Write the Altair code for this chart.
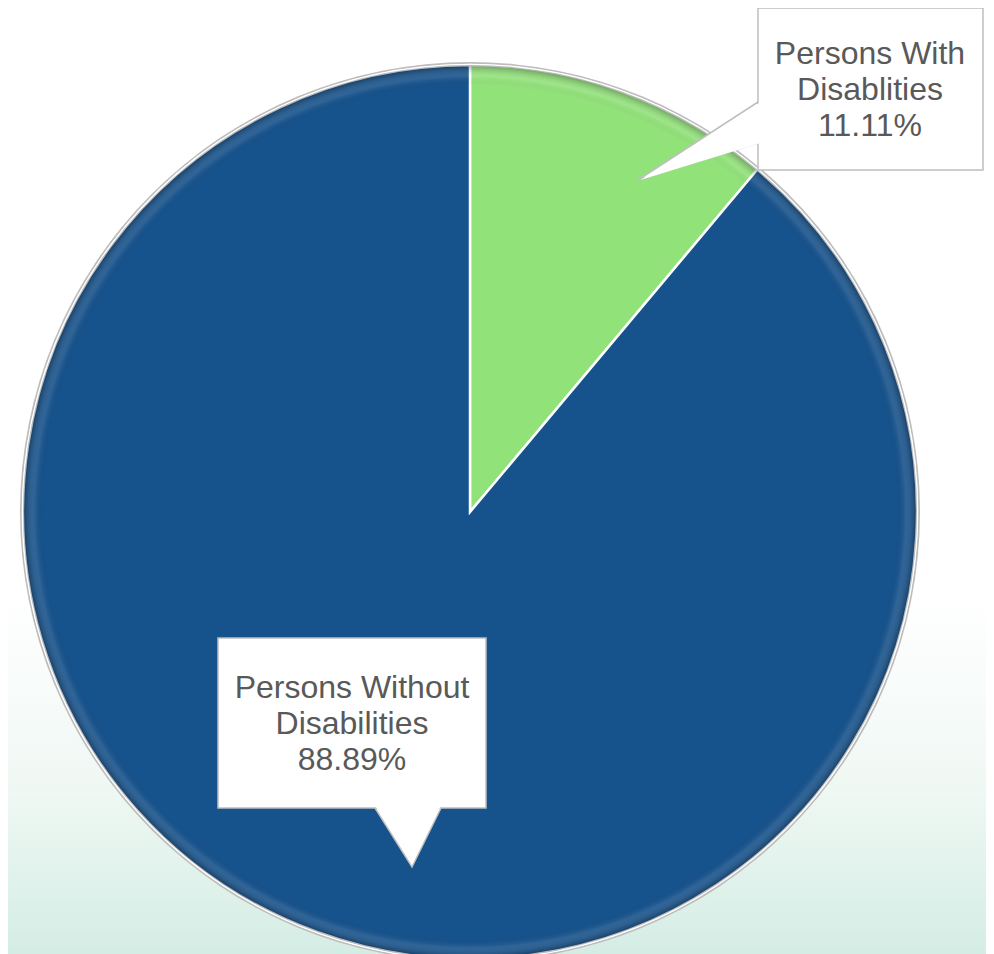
import altair as alt
import pandas as pd

# ---- data ----
categories = ["Persons With Disablities", "Persons Without Disabilities"]
shares = [11.11, 88.89]
label_line1 = ["Persons With", "Persons Without"]
label_line2 = ["Disablities", "Disabilities"]
slice_order = [0, 1]

# ---- styles ----
slice_colors = ["#92E27A", "#16528C"]
text_color = "#595959"
box_stroke = "#BFBFBF"

df = pd.DataFrame({
    "category": categories,
    "share": shares,
    "line1": label_line1,
    "line2": label_line2,
    "order": slice_order,
})
df["label"] = df["line1"] + "\n" + df["line2"] + "\n" + df["share"].map(lambda v: f"{v:.2f}%")

W, H = 978, 946
CX, CY, R = 462, 504, 447

base = alt.Chart(df)
one = base.transform_filter(alt.datum.order == 0)

# background gradient
bg = one.mark_rect(
    fill=alt.LinearGradient(
        gradient="linear", x1=0, x2=0, y1=0, y2=1,
        stops=[alt.GradientStop(offset=0, color="#FFFFFF"),
               alt.GradientStop(offset=0.62, color="#FFFFFF"),
               alt.GradientStop(offset=0.82, color="#F0F8F4"),
               alt.GradientStop(offset=1, color="#D4EDE4")]),
    strokeWidth=0,
).encode(x=alt.value(0), x2=alt.value(W), y=alt.value(0), y2=alt.value(H))

# thin grey rim around the pie
rim = one.mark_arc(theta=0, theta2=6.2832, radius=R + 3, fill="#BDBDBD").encode(
    x=alt.value(CX), y=alt.value(CY))
rim_gap = one.mark_arc(theta=0, theta2=6.2832, radius=R + 1, fill="#F4F4F4").encode(
    x=alt.value(CX), y=alt.value(CY))

pie = base.mark_arc(radius=R, stroke="#FFFFFF", strokeWidth=2.5).encode(
    theta=alt.Theta("share:Q", stack=True),
    color=alt.Color("category:N", scale=alt.Scale(domain=categories, range=slice_colors), legend=None),
    order=alt.Order("order:Q"),
    x=alt.value(CX), y=alt.value(CY),
)

# bevel shading on the rim
shade = one.mark_arc(
    theta=0, theta2=6.2832, radius=R,
    fill=alt.RadialGradient(
        gradient="radial", x1=0.5, y1=0.5, r1=0, x2=0.5, y2=0.5, r2=0.5,
        stops=[alt.GradientStop(offset=0, color="rgba(0,0,0,0)"),
               alt.GradientStop(offset=0.955, color="rgba(0,0,0,0)"),
               alt.GradientStop(offset=0.975, color="rgba(255,255,255,0.10)"),
               alt.GradientStop(offset=1, color="rgba(0,0,0,0.30)")]),
).encode(x=alt.value(CX), y=alt.value(CY))

def callout(cat, box, ptr_xy, ptr_shape, ptr_size, cover_xy, text_xy):
    sel = base.transform_filter(alt.datum.category == cat)
    x0, y0, x1, y1 = box
    ptr = sel.mark_point(shape=ptr_shape, size=ptr_size, filled=True, fill="#FFFFFF",
                         stroke=box_stroke, strokeWidth=1.5, opacity=1).encode(
        x=alt.value(ptr_xy[0]), y=alt.value(ptr_xy[1]))
    rect = sel.mark_rect(fill="#FFFFFF", stroke=box_stroke, strokeWidth=1.5).encode(
        x=alt.value(x0), x2=alt.value(x1), y=alt.value(y0), y2=alt.value(y1))
    cover = sel.mark_point(shape=ptr_shape, size=ptr_size, filled=True, fill="#FFFFFF",
                           strokeWidth=0, opacity=1).encode(
        x=alt.value(cover_xy[0]), y=alt.value(cover_xy[1]))
    txt = sel.mark_text(font="Liberation Sans", fontSize=32, lineHeight=36, color=text_color,
                        align="center", baseline="middle", lineBreak="\n").encode(
        text="label:N", x=alt.value(text_xy[0]), y=alt.value(text_xy[1]))
    return [ptr, rect, cover, txt]

green_call = callout(
    categories[0], (750, 0, 975, 162), (690, 133),
    "M1,-0.65L1,0.033L-1,0.65Z", 14400, (692.5, 133), (862, 46))
blue_call = callout(
    categories[1], (210, 630, 478, 800), (400, 829.5),
    "M-1,-0.894L1,-0.894L0.121,0.894Z", 4356, (400, 827), (344, 680))

chart = alt.layer(bg, rim, rim_gap, pie, shade, *green_call, *blue_call).properties(
    width=W, height=H, autosize=alt.AutoSizeParams(type="none"), padding=0
).configure_view(strokeWidth=0)

chart.save("out.html", embed_options={"renderer": "svg", "actions": False})
